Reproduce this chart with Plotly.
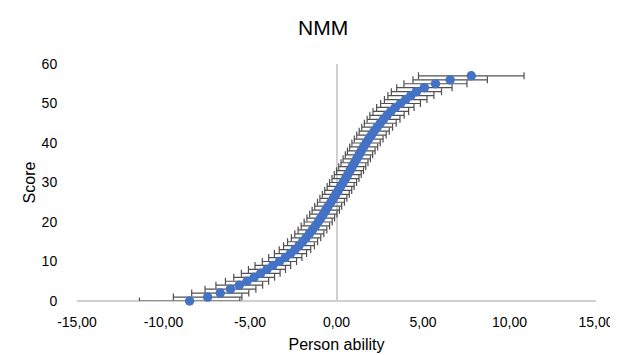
import plotly.graph_objects as go

scores = list(range(0, 58))
person_ability = [
    -8.49, -7.45, -6.72, -6.13, -5.62, -5.17, -4.76, -4.38, -4.02, -3.68,
    -3.30, -2.96, -2.66, -2.40, -2.17, -1.96, -1.76, -1.57, -1.39, -1.22,
    -1.06, -0.91, -0.76, -0.62, -0.48, -0.32, -0.18, -0.04, 0.10, 0.24,
    0.38, 0.52, 0.65, 0.78, 0.91, 1.04, 1.17, 1.30, 1.43, 1.57,
    1.71, 1.86, 2.02, 2.18, 2.35, 2.53, 2.72, 2.92, 3.14, 3.40,
    3.70, 4.00, 4.30, 4.62, 5.08, 5.72, 6.57, 7.79,
]
std_error = [
    2.90, 1.98, 1.65, 1.47, 1.35, 1.25, 1.18, 1.12, 1.07, 1.03,
    0.99, 0.96, 0.93, 0.91, 0.89, 0.87, 0.85, 0.84, 0.83, 0.82,
    0.81, 0.80, 0.79, 0.79, 0.78, 0.78, 0.78, 0.78, 0.78, 0.78,
    0.78, 0.78, 0.78, 0.78, 0.78, 0.78, 0.79, 0.79, 0.80, 0.81,
    0.82, 0.83, 0.85, 0.87, 0.89, 0.92, 0.95, 0.99, 1.03, 1.08,
    1.15, 1.23, 1.33, 1.45, 1.60, 1.82, 2.15, 3.05,
]
x_tickvals = [-15, -10, -5, 0, 5, 10, 15]
x_ticktext = ["-15,00", "-10,00", "-5,00", "0,00", "5,00", "10,00", "15,00"]
y_tickvals = [0, 10, 20, 30, 40, 50, 60]

FONT = "Liberation Sans, Arial, sans-serif"

fig = go.Figure()
fig.add_trace(go.Scatter(
    x=person_ability, y=scores, mode="markers",
    marker=dict(color="#4472C4", size=9.5),
    error_x=dict(type="data", array=std_error, visible=True,
                 color="#505050", thickness=1.2, width=3.5),
    cliponaxis=False, showlegend=False,
))

fig.update_layout(
    width=618, height=355,
    margin=dict(l=69, r=19, t=56, b=59),
    paper_bgcolor="white", plot_bgcolor="white",
    font=dict(family=FONT, color="#000000", size=14),
    title=dict(text="NMM", x=0.51, xanchor="center", y=0.945, yanchor="middle",
               font=dict(size=21, family=FONT, color="#000000")),
    xaxis=dict(range=[-15, 15], tickvals=x_tickvals, ticktext=x_ticktext,
               showgrid=False, zeroline=True, zerolinecolor="#D0D0D0", zerolinewidth=1.5,
               showline=False, ticks="outside", ticklen=8, tickcolor="rgba(0,0,0,0)",
               tickfont=dict(size=14),
               title=dict(text="Person ability", font=dict(size=16), standoff=10)),
    yaxis=dict(range=[0, 60], tickvals=y_tickvals, showgrid=False,
               zeroline=True, zerolinecolor="#D0D0D0", zerolinewidth=1.5,
               showline=False, ticks="outside", ticklen=16, tickcolor="rgba(0,0,0,0)",
               tickfont=dict(size=14),
               title=dict(text="Score", font=dict(size=16), standoff=2)),
)

fig.write_html("out.html")
